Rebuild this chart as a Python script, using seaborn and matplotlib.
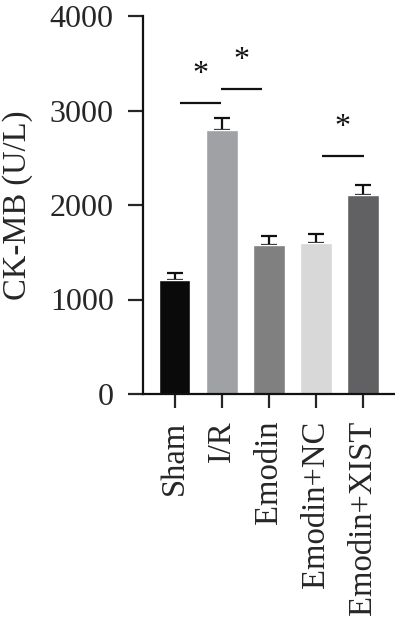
import matplotlib
matplotlib.use("Agg")
import matplotlib.pyplot as plt
import numpy as np
import pandas as pd
import seaborn as sns

# values
groups = ["Sham", "I/R", "Emodin", "Emodin+NC", "Emodin+XIST"]
means = [1205, 2795, 1573, 1601, 2109]
errs = [78, 127, 102, 95, 106]
colors = ["#0a0a0a", "#a0a1a5", "#808080", "#d8d8d8", "#616163"]

# significance bars: (start, end, height), star label above
sig_lines = [(0.12, 0.98, 3080), (0.98, 1.86, 3227), (3.14, 4.03, 2515)]
sig_stars = [(0.56, 3385), (1.42, 3525), (3.58, 2815)]

sns.set_style("ticks")
plt.rcParams["font.family"] = ["Liberation Serif", "DejaVu Serif"]

df = pd.DataFrame({"group": groups, "value": means})

fig = plt.figure(figsize=(3.95, 6.21), dpi=100)
ax = fig.add_axes([143 / 395, 1 - 394 / 621, 1 - 143 / 395, (394 - 16) / 621])

ax.errorbar(np.arange(len(groups)), means, yerr=[np.zeros(len(errs)), errs],
            fmt="none", ecolor="#111111", elinewidth=1.6, capsize=6, capthick=1.6, zorder=1)
sns.barplot(data=df, x="group", y="value", hue="group", palette=colors, legend=False,
            width=0.68, saturation=1, ax=ax, zorder=2)

for x0, x1, h in sig_lines:
    ax.plot([x0, x1], [h, h], color="#111111", lw=1.6, solid_capstyle="butt", clip_on=False)
for x, h in sig_stars:
    ax.text(x, h, "*", ha="center", va="center", fontsize=23, color="#111111")

ax.set_ylim(0, 4000)
ax.set_xlim(-0.67, 4.69)
ax.set_yticks([0, 1000, 2000, 3000, 4000])
ax.set_ylabel("CK-MB (U/L)", fontsize=23.5, labelpad=12)
ax.set_xlabel("")
ax.tick_params(axis="y", labelsize=23, length=11, width=1.6, pad=10)
ax.tick_params(axis="x", labelsize=23.5, length=10, width=1.6, rotation=90, pad=9)
sns.despine(ax=ax)
for side in ["left", "bottom"]:
    ax.spines[side].set_linewidth(1.6)
    ax.spines[side].set_color("#111111")

fig.savefig("out.png", dpi=100)
